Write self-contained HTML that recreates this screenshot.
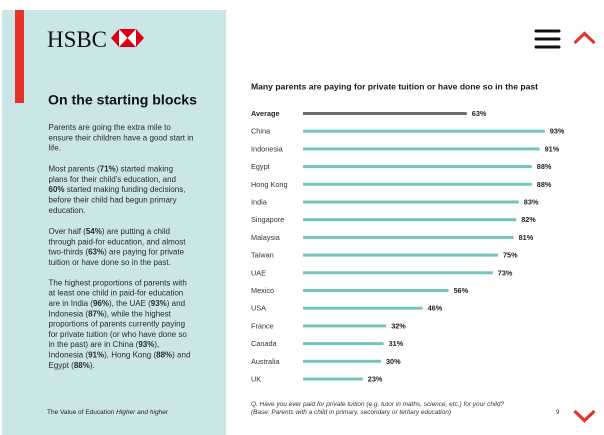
<!DOCTYPE html>
<html><head><meta charset="utf-8"><style>
html,body{margin:0;padding:0;background:#fff;}
svg{display:block;}
text{font-family:"Liberation Sans",Arial,sans-serif;}
</style></head><body>
<svg width="604" height="435" viewBox="0 0 604 435" xmlns="http://www.w3.org/2000/svg">
<rect x="0" y="0" width="604" height="435" fill="#fff"/>
<rect x="2" y="10" width="224" height="425" fill="#cbe6e7"/>
<rect x="15" y="10" width="9" height="93" fill="#e8312a"/>
<text x="47" y="47" font-family="Liberation Serif,serif" font-size="23" fill="#111" textLength="60" lengthAdjust="spacingAndGlyphs" style="font-family:'Liberation Serif',serif">HSBC</text>
<g>
<polygon points="111,38 119,29 136,29 144,38 136,47 119,47" fill="#db0011"/>
<polygon points="119,29 127.5,38 119,47" fill="#fff"/>
<polygon points="136,29 127.5,38 136,47" fill="#fff"/>
</g>
<text x="48" y="104.5" font-size="14" font-weight="bold" fill="#111" textLength="149" lengthAdjust="spacingAndGlyphs">On the starting blocks</text>
<g font-size="8" fill="#2a2a2a">
<text x="48.5" y="130">Parents are going the extra mile to</text>
<text x="48.5" y="140.3">ensure their children have a good start in</text>
<text x="48.5" y="150.6">life.</text>
<text x="48.5" y="171.6">Most parents (<tspan font-weight="bold">71%</tspan>) started making</text>
<text x="48.5" y="181.9">plans for their child’s education, and</text>
<text x="48.5" y="192.2"><tspan font-weight="bold">60%</tspan> started making funding decisions,</text>
<text x="48.5" y="202.5">before their child had begun primary</text>
<text x="48.5" y="212.8">education.</text>
<text x="48.5" y="234">Over half (<tspan font-weight="bold">54%</tspan>) are putting a child</text>
<text x="48.5" y="244.3">through paid-for education, and almost</text>
<text x="48.5" y="254.6">two-thirds (<tspan font-weight="bold">63%</tspan>) are paying for private</text>
<text x="48.5" y="264.9">tuition or have done so in the past.</text>
<text x="48.5" y="285.4">The highest proportions of parents with</text>
<text x="48.5" y="295.7">at least one child in paid-for education</text>
<text x="48.5" y="306">are in India (<tspan font-weight="bold">96%</tspan>), the UAE (<tspan font-weight="bold">93%</tspan>) and</text>
<text x="48.5" y="316.3">Indonesia (<tspan font-weight="bold">87%</tspan>), while the highest</text>
<text x="48.5" y="326.6">proportions of parents currently paying</text>
<text x="48.5" y="336.9">for private tuition (or who have done so</text>
<text x="48.5" y="347.2">in the past) are in China (<tspan font-weight="bold">93%</tspan>),</text>
<text x="48.5" y="357.5">Indonesia (<tspan font-weight="bold">91%</tspan>), Hong Kong (<tspan font-weight="bold">88%</tspan>) and</text>
<text x="48.5" y="367.8">Egypt (<tspan font-weight="bold">88%</tspan>).</text>
</g>
<text x="47" y="414" font-size="6.3" fill="#222" textLength="121" lengthAdjust="spacingAndGlyphs">The Value of Education <tspan font-style="italic">Higher and higher</tspan></text>

<!-- top right icons -->
<g stroke="#111" stroke-width="3" stroke-linecap="round">
<line x1="536" y1="31" x2="559" y2="31"/>
<line x1="536" y1="39" x2="559" y2="39"/>
<line x1="536" y1="47" x2="559" y2="47"/>
</g>
<polyline points="574.5,43 584.5,33.5 594.5,43" fill="none" stroke="#e8312a" stroke-width="3"/>
<polyline points="574.5,411 584.5,420.5 594.5,411" fill="none" stroke="#e8312a" stroke-width="3.2"/>

<text x="251" y="89.5" font-size="8" font-weight="bold" fill="#1a1a1a" textLength="287" lengthAdjust="spacingAndGlyphs">Many parents are paying for private tuition or have done so in the past</text>

<g font-size="7.3" fill="#333">
<text x="251" y="116" font-weight="bold" fill="#222">Average</text>
<text x="251" y="133.7">China</text>
<text x="251" y="151.4">Indonesia</text>
<text x="251" y="169.1">Egypt</text>
<text x="251" y="186.8">Hong Kong</text>
<text x="251" y="204.5">India</text>
<text x="251" y="222.2">Singapore</text>
<text x="251" y="239.9">Malaysia</text>
<text x="251" y="257.6">Taiwan</text>
<text x="251" y="275.3">UAE</text>
<text x="251" y="293">Mexico</text>
<text x="251" y="310.7">USA</text>
<text x="251" y="328.4">France</text>
<text x="251" y="346.1">Canada</text>
<text x="251" y="363.8">Australia</text>
<text x="251" y="381.5">UK</text>
</g>

<g>
<rect x="303" y="112" width="163.8" height="3" fill="#6b6b6b"/>
<rect x="303" y="129.7" width="241.8" height="3" fill="#74c6bb"/>
<rect x="303" y="147.4" width="236.6" height="3" fill="#74c6bb"/>
<rect x="303" y="165.1" width="228.8" height="3" fill="#74c6bb"/>
<rect x="303" y="182.8" width="228.8" height="3" fill="#74c6bb"/>
<rect x="303" y="200.5" width="215.8" height="3" fill="#74c6bb"/>
<rect x="303" y="218.2" width="213.2" height="3" fill="#74c6bb"/>
<rect x="303" y="235.9" width="210.6" height="3" fill="#74c6bb"/>
<rect x="303" y="253.6" width="195" height="3" fill="#74c6bb"/>
<rect x="303" y="271.3" width="189.8" height="3" fill="#74c6bb"/>
<rect x="303" y="289" width="145.6" height="3" fill="#74c6bb"/>
<rect x="303" y="306.7" width="119.6" height="3" fill="#74c6bb"/>
<rect x="303" y="324.4" width="83.2" height="3" fill="#74c6bb"/>
<rect x="303" y="342.1" width="80.6" height="3" fill="#74c6bb"/>
<rect x="303" y="359.8" width="78" height="3" fill="#74c6bb"/>
<rect x="303" y="377.5" width="59.8" height="3" fill="#74c6bb"/>
</g>

<g font-size="7.3" font-weight="bold" fill="#222">
<text x="471.8" y="116">63%</text>
<text x="549.8" y="133.7">93%</text>
<text x="544.6" y="151.4">91%</text>
<text x="536.8" y="169.1">88%</text>
<text x="536.8" y="186.8">88%</text>
<text x="523.8" y="204.5">83%</text>
<text x="521.2" y="222.2">82%</text>
<text x="518.6" y="239.9">81%</text>
<text x="503" y="257.6">75%</text>
<text x="497.8" y="275.3">73%</text>
<text x="453.6" y="293">56%</text>
<text x="427.6" y="310.7">46%</text>
<text x="391.2" y="328.4">32%</text>
<text x="388.6" y="346.1">31%</text>
<text x="386" y="363.8">30%</text>
<text x="367.8" y="381.5">23%</text>
</g>

<g font-size="6" font-style="italic" fill="#333">
<text x="251" y="406" textLength="253" lengthAdjust="spacingAndGlyphs">Q. Have you ever paid for private tuition (e.g. tutor in maths, science, etc.) for your child?</text>
<text x="251" y="414" textLength="200" lengthAdjust="spacingAndGlyphs">(Base: Parents with a child in primary, secondary or tertiary education)</text>
</g>
<text x="556" y="414" font-size="6" fill="#333">9</text>
</svg>
</body></html>
